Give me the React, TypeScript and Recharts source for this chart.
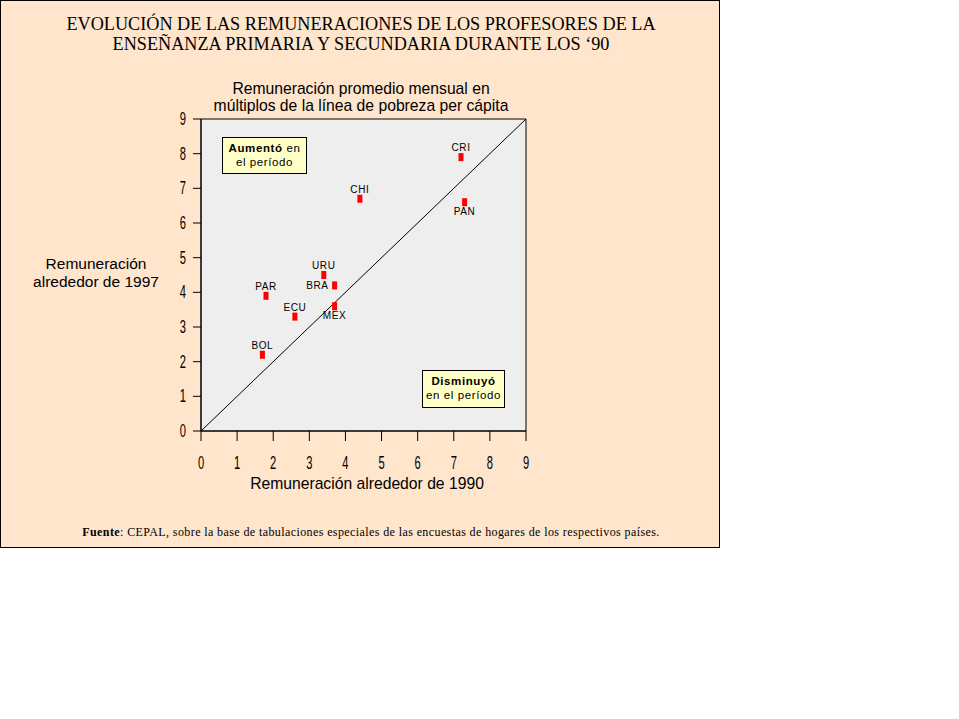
import React from "react"
import {
  ScatterChart,
  Scatter,
  XAxis,
  YAxis,
  ReferenceArea,
  ReferenceLine,
} from "recharts"

// data
const countries = ["CRI", "PAN", "CHI", "URU", "BRA", "MEX", "PAR", "ECU", "BOL"]
const pay1990 = [7.2, 7.3, 4.4, 3.4, 3.7, 3.7, 1.8, 2.6, 1.7]
const pay1997 = [7.9, 6.6, 6.7, 4.5, 4.2, 3.6, 3.9, 3.3, 2.2]
const axisTicks = [0, 1, 2, 3, 4, 5, 6, 7, 8, 9]

// where each country label sits relative to its marker
const labelSide: Record<string, "top" | "bottom" | "left"> = {
  CRI: "top",
  PAN: "bottom",
  CHI: "top",
  URU: "top",
  BRA: "left",
  MEX: "bottom",
  PAR: "top",
  ECU: "top",
  BOL: "top",
}

const points = countries.map((name, i) => ({ name, x: pay1990[i], y: pay1997[i] }))

const BG = "#FEE5CC"
const SANS = "'Liberation Sans', Arial, sans-serif"
const SERIF = "'Liberation Serif', 'Times New Roman', serif"

const XTick = (props: any) => {
  const { x, payload } = props
  return (
    <text
      transform={`translate(${x},469) scale(0.62,1)`}
      textAnchor="middle"
      fontFamily={SANS}
      fontSize={18}
      fill="#000"
    >
      {payload.value}
    </text>
  )
}

const YTick = (props: any) => {
  const { x, y, payload } = props
  return (
    <text
      transform={`translate(${x - 5},${y + 6}) scale(0.62,1)`}
      textAnchor="end"
      fontFamily={SANS}
      fontSize={18}
      fill="#000"
    >
      {payload.value}
    </text>
  )
}

const Marker = (props: any) => {
  const { cx, cy, payload } = props
  const side = labelSide[payload.name]
  let lx = cx
  let ly = cy - 6
  let anchor: "middle" | "end" = "middle"
  if (side === "bottom") ly = cy + 13
  if (side === "left") {
    lx = cx - 6
    ly = cy + 4
    anchor = "end"
  }
  return (
    <g>
      <rect x={cx - 2.5} y={cy - 4} width={5} height={8} fill="#FF0000" />
      <text
        x={lx}
        y={ly}
        textAnchor={anchor}
        fontFamily={SANS}
        fontSize={10}
        letterSpacing={0.6}
        fill="#000"
      >
        {payload.name}
      </text>
    </g>
  )
}

const box: React.CSSProperties = {
  position: "absolute",
  background: "#FFFFC8",
  border: "1px solid #000",
  boxSizing: "border-box",
  fontFamily: SANS,
  fontSize: 11.5,
  lineHeight: "14px",
  textAlign: "center",
  letterSpacing: 0.6,
  paddingTop: 3,
}

export default function App() {
  return (
    <div
      style={{
        position: "absolute",
        left: 0,
        top: 0,
        width: 720,
        height: 548,
        background: BG,
        border: "1px solid #000",
        boxSizing: "border-box",
      }}
    >
      <div
        style={{
          position: "absolute",
          left: 0,
          top: 13,
          width: 720,
          textAlign: "center",
          fontFamily: SERIF,
          fontSize: 18.2,
          lineHeight: "20px",
          color: "#000",
        }}
      >
        EVOLUCIÓN DE LAS REMUNERACIONES DE LOS PROFESORES DE LA
        <br />
        ENSEÑANZA PRIMARIA Y SECUNDARIA DURANTE LOS ‘90
      </div>
      <div
        style={{
          position: "absolute",
          left: 210,
          top: 79,
          width: 300,
          textAlign: "center",
          fontFamily: SANS,
          fontSize: 15.7,
          lineHeight: "17px",
        }}
      >
        Remuneración promedio mensual en
        <br />
        múltiplos de la línea de pobreza per cápita
      </div>
      <div
        style={{
          position: "absolute",
          left: 15,
          top: 254,
          width: 160,
          textAlign: "center",
          fontFamily: SANS,
          fontSize: 15.5,
          lineHeight: "18px",
        }}
      >
        Remuneración
        <br />
        alrededor de 1997
      </div>
      <div
        style={{
          position: "absolute",
          left: 216,
          top: 474,
          width: 300,
          textAlign: "center",
          fontFamily: SANS,
          fontSize: 15.7,
          lineHeight: "18px",
        }}
      >
        Remuneración alrededor de 1990
      </div>
      <div
        style={{
          position: "absolute",
          left: 0,
          top: 524,
          width: 740,
          textAlign: "center",
          fontFamily: SERIF,
          fontSize: 12,
          letterSpacing: 0.4,
          lineHeight: "14px",
        }}
      >
        <b>Fuente</b>: CEPAL, sobre la base de tabulaciones especiales de las encuestas de hogares de los
        respectivos países.
      </div>

      <div style={{ position: "absolute", left: -1, top: -1 }}>
        <ScatterChart
          width={720}
          height={548}
          margin={{ top: 119, right: 194, bottom: 77, left: 171 }}
        >
          <XAxis
            type="number"
            dataKey="x"
            domain={[0, 9]}
            ticks={axisTicks}
            interval={0}
            height={40}
            tickSize={10}
            axisLine={{ stroke: "#000" }}
            tickLine={{ stroke: "#000" }}
            tick={<XTick />}
          />
          <YAxis
            type="number"
            dataKey="y"
            domain={[0, 9]}
            ticks={axisTicks}
            interval={0}
            width={30}
            tickSize={8}
            axisLine={{ stroke: "#000" }}
            tickLine={{ stroke: "#000" }}
            tick={<YTick />}
          />
          <ReferenceArea
            x1={0}
            x2={9}
            y1={0}
            y2={9}
            fill="#EEEEEE"
            fillOpacity={1}
            stroke="#000"
            strokeWidth={1}
          />
          <ReferenceLine
            segment={[
              { x: 0, y: 0 },
              { x: 9, y: 9 },
            ]}
            stroke="#000"
            strokeWidth={1}
          />
          <Scatter data={points} shape={<Marker />} isAnimationActive={false} />
        </ScatterChart>
      </div>

      <div style={{ ...box, left: 221, top: 136, width: 85, height: 37 }}>
        <b>Aumentó</b> en
        <br />
        el período
      </div>
      <div style={{ ...box, left: 421, top: 369, width: 83, height: 38 }}>
        <b>Disminuyó</b>
        <br />
        en el período
      </div>
    </div>
  )
}
